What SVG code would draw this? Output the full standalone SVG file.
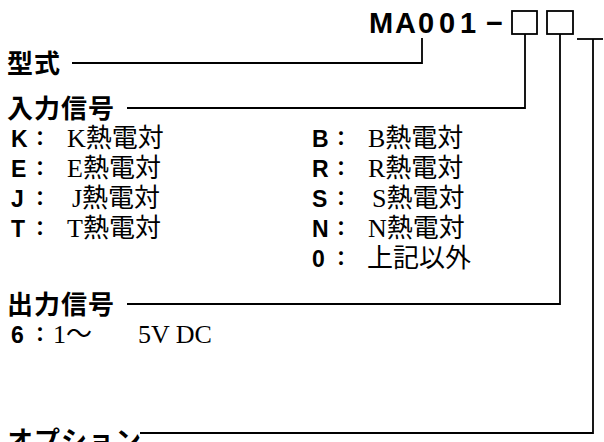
<svg xmlns="http://www.w3.org/2000/svg" width="604" height="442" viewBox="0 0 604 442">
<style>
.lbl{font-family:"Noto Sans CJK JP","Noto Sans",sans-serif;font-weight:700;font-size:26px;letter-spacing:1px;fill:#000}
.code{font-family:"Liberation Sans",Arial,sans-serif;font-weight:700;font-size:23px;fill:#000}
.colon{font-family:"Noto Sans CJK JP",sans-serif;font-weight:700;font-size:20px;fill:#000}
.desc{font-family:"Liberation Serif","Noto Sans CJK JP",serif;font-size:26px;fill:#000}
.title{font-family:"Liberation Sans",Arial,sans-serif;font-weight:700;font-size:29px;fill:#000}
.ln{fill:none;stroke:#000;stroke-width:1.8}
</style>
<rect width="604" height="442" fill="#fff"/>
<g id="model-code">
<text class="title" x="369 395 418 439 460" y="33">MA001</text>
<text class="title" x="486" y="33">−</text>
<rect class="ln" x="512" y="11" width="25" height="23"/>
<rect class="ln" x="547" y="11" width="26" height="23"/>
</g>
<g id="type">
<text class="lbl" x="7" y="73">型式</text>
</g>
<g id="input">
<text class="lbl" x="7" y="118">入力信号</text>
<text class="code" x="11" y="147">K</text><text class="colon" x="30" y="146">：</text><text class="desc" x="67" y="147">K熱電対</text>
<text class="code" x="11" y="177">E</text><text class="colon" x="30" y="176">：</text><text class="desc" x="67" y="177">E熱電対</text>
<text class="code" x="11" y="207">J</text><text class="colon" x="30" y="206">：</text><text class="desc" x="72" y="207">J熱電対</text>
<text class="code" x="11" y="237">T</text><text class="colon" x="30" y="236">：</text><text class="desc" x="67" y="237">T熱電対</text>
<text class="code" x="312" y="147">B</text><text class="colon" x="331" y="146">：</text><text class="desc" x="368" y="147">B熱電対</text>
<text class="code" x="312" y="177">R</text><text class="colon" x="331" y="176">：</text><text class="desc" x="368" y="177">R熱電対</text>
<text class="code" x="312" y="207">S</text><text class="colon" x="331" y="206">：</text><text class="desc" x="372" y="207">S熱電対</text>
<text class="code" x="312" y="237">N</text><text class="colon" x="331" y="236">：</text><text class="desc" x="368" y="237">N熱電対</text>
<text class="code" x="312" y="267">0</text><text class="colon" x="331" y="266">：</text><text class="desc" x="367" y="267">上記以外</text>
</g>
<g id="output">
<text class="lbl" x="7" y="314">出力信号</text>
<text class="code" x="11" y="343">6</text><text class="colon" x="30" y="342">：</text>
<text class="desc" y="343"><tspan x="53">1～</tspan><tspan x="138">5V DC</tspan></text>
</g>
<g id="option">
<text class="lbl" x="7" y="450">オプション</text>
</g>
<g id="connectors">
<path class="ln" d="M72 63 H422 V38"/>
<path class="ln" d="M127 108 H525 V34"/>
<path class="ln" d="M127 304 H560 V34"/>
<path class="ln" d="M140 433 H593 V39"/>
<path class="ln" d="M577 39 H603"/>
</g>
</svg>
